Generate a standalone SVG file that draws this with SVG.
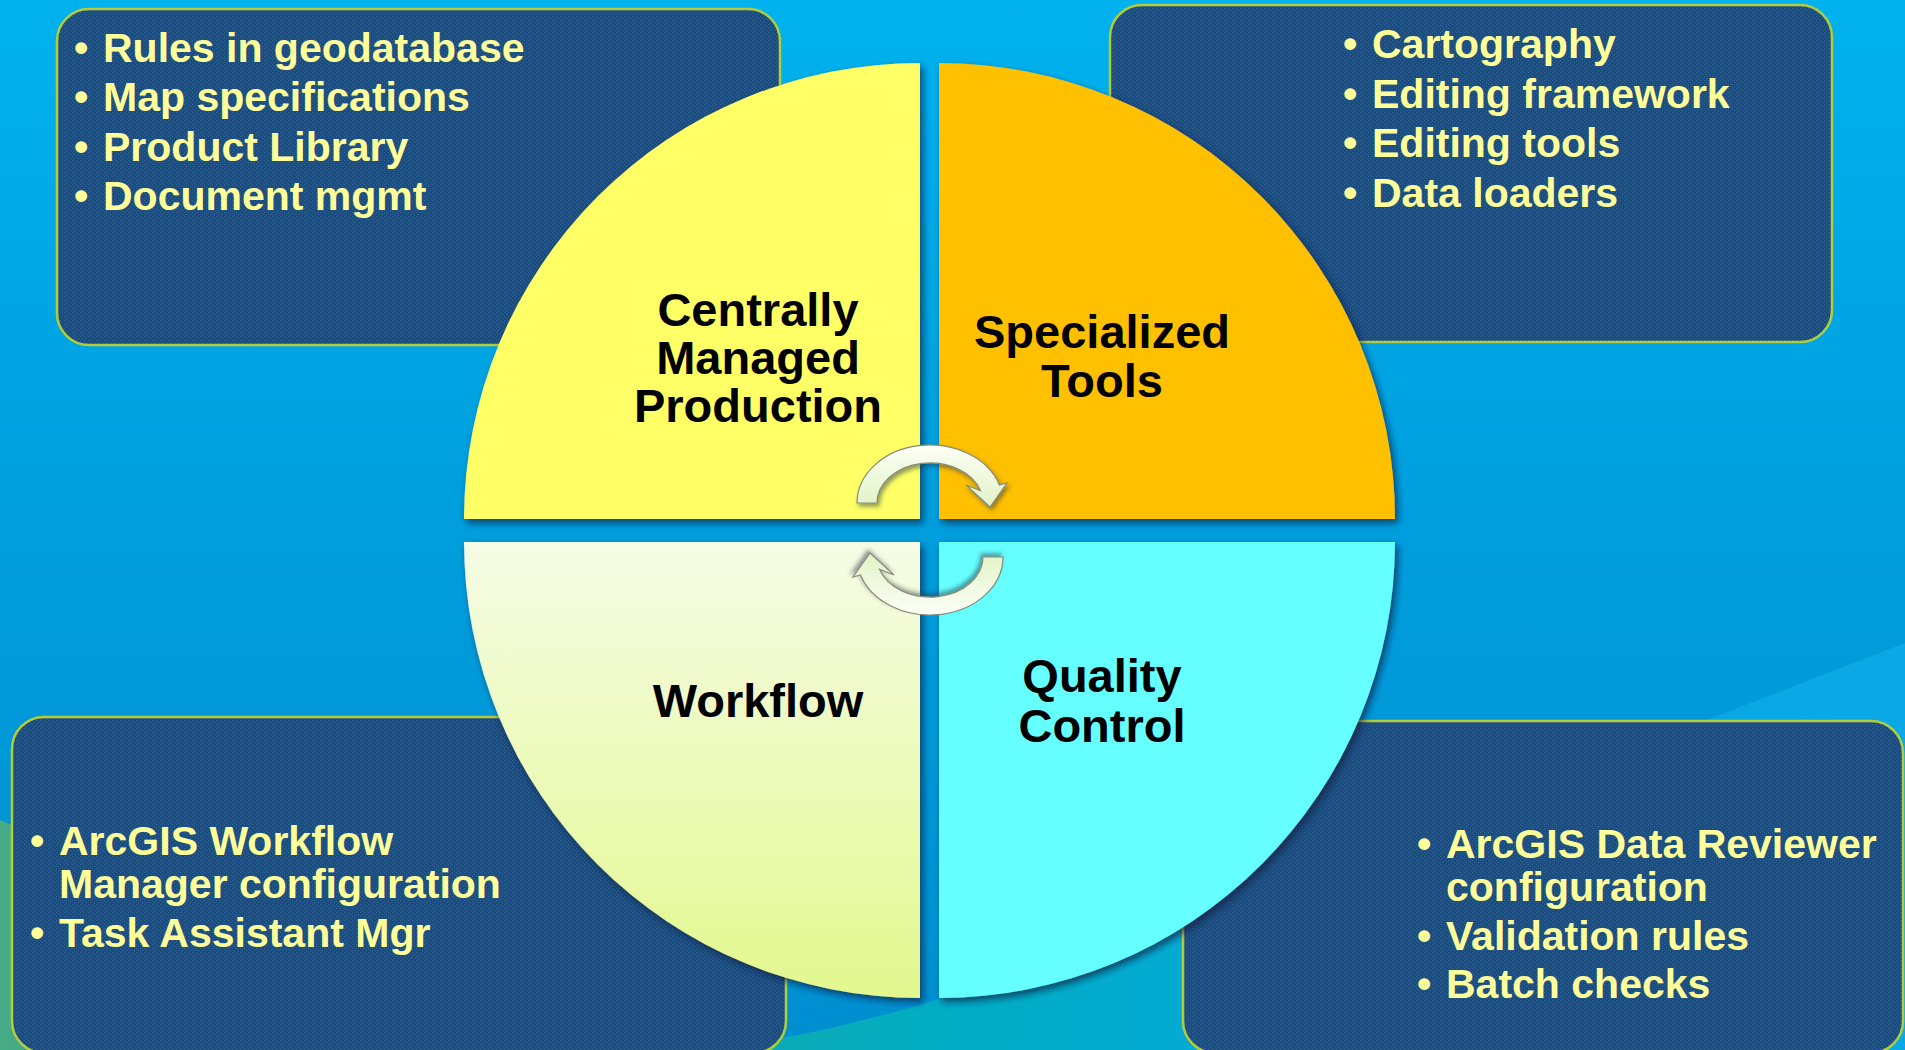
<svg xmlns="http://www.w3.org/2000/svg" width="1905" height="1050" viewBox="0 0 1905 1050">
  <defs>
    <linearGradient id="bg" x1="0" y1="0" x2="0" y2="1">
      <stop offset="0" stop-color="#00b2ee"/>
      <stop offset="0.5" stop-color="#009edd"/>
      <stop offset="1" stop-color="#008fd0"/>
    </linearGradient>
    <linearGradient id="wave" x1="0" y1="0" x2="1905" y2="0" gradientUnits="userSpaceOnUse">
      <stop offset="0" stop-color="#46ab86"/>
      <stop offset="0.3" stop-color="#1aa8a6"/>
      <stop offset="0.5" stop-color="#00adc4"/>
      <stop offset="0.75" stop-color="#08a7e0"/>
      <stop offset="1" stop-color="#0aa9e6"/>
    </linearGradient>
    <linearGradient id="wfFill" x1="0" y1="542" x2="0" y2="998" gradientUnits="userSpaceOnUse">
      <stop offset="0" stop-color="#f6fce6"/>
      <stop offset="1" stop-color="#e2f88e"/>
    </linearGradient>
    <linearGradient id="arrFill" x1="0" y1="0" x2="0" y2="1">
      <stop offset="0" stop-color="#fcfff6"/>
      <stop offset="1" stop-color="#e2f3c6"/>
    </linearGradient>
    <pattern id="tex" width="4" height="4" patternUnits="userSpaceOnUse">
      <rect width="4" height="4" fill="#214b7b"/>
      <rect x="0" y="0" width="1" height="1" fill="#2e689c"/>
      <rect x="2" y="2" width="1" height="1" fill="#2e689c"/>
    </pattern>
    <filter id="qsh" x="-10%" y="-10%" width="125%" height="125%">
      <feDropShadow dx="3" dy="4" stdDeviation="3.5" flood-color="#0b1f3f" flood-opacity="0.7"/>
    </filter>
    <filter id="ash" x="-20%" y="-20%" width="150%" height="160%">
      <feDropShadow dx="2" dy="3" stdDeviation="2" flood-color="#203040" flood-opacity="0.5"/>
    </filter>
    <style>
      .box { fill: url(#tex); stroke: #b2cc3a; stroke-width: 2.5; }
      .bt { font-family: "Liberation Sans", Arial, sans-serif; font-weight: bold; font-size: 41px; fill: #ffff99; }
      .ql { font-family: "Liberation Sans", Arial, sans-serif; font-weight: bold; font-size: 47px; fill: #000000; text-anchor: middle; }
      .quad { filter: url(#qsh); }
      .arr { fill: url(#arrFill); stroke: #868c7c; stroke-width: 1.2; filter: url(#ash); }
    </style>
  </defs>

  <!-- background -->
  <rect x="0" y="0" width="1905" height="1050" fill="url(#bg)"/>
  <path d="M 0 820 C 200 900 500 1060 787 1037 C 1000 1000 1500 800 1905 643 L 1905 1050 L 0 1050 Z" fill="url(#wave)"/>

  <!-- text boxes -->
  <g id="box-top-left">
    <rect class="box" x="57" y="9" width="723" height="336" rx="32"/>
    <text class="bt" y="62"><tspan x="74">•</tspan><tspan x="103">Rules in geodatabase</tspan></text>
    <text class="bt" y="111"><tspan x="74">•</tspan><tspan x="103">Map specifications</tspan></text>
    <text class="bt" y="161"><tspan x="74">•</tspan><tspan x="103">Product Library</tspan></text>
    <text class="bt" y="210"><tspan x="74">•</tspan><tspan x="103">Document mgmt</tspan></text>
  </g>
  <g id="box-top-right">
    <rect class="box" x="1110" y="5" width="722" height="337" rx="32"/>
    <text class="bt" y="58"><tspan x="1343">•</tspan><tspan x="1372">Cartography</tspan></text>
    <text class="bt" y="108"><tspan x="1343">•</tspan><tspan x="1372">Editing framework</tspan></text>
    <text class="bt" y="157"><tspan x="1343">•</tspan><tspan x="1372">Editing tools</tspan></text>
    <text class="bt" y="207"><tspan x="1343">•</tspan><tspan x="1372">Data loaders</tspan></text>
  </g>
  <g id="box-bottom-left">
    <rect class="box" x="12" y="717" width="774" height="336" rx="32"/>
    <text class="bt" y="855"><tspan x="30">•</tspan><tspan x="59">ArcGIS Workflow</tspan></text>
    <text class="bt" x="59" y="898">Manager configuration</text>
    <text class="bt" y="947"><tspan x="30">•</tspan><tspan x="59">Task Assistant Mgr</tspan></text>
  </g>
  <g id="box-bottom-right">
    <rect class="box" x="1183" y="721" width="720" height="332" rx="32"/>
    <text class="bt" y="858"><tspan x="1417">•</tspan><tspan x="1446">ArcGIS Data Reviewer</tspan></text>
    <text class="bt" x="1446" y="901">configuration</text>
    <text class="bt" y="950"><tspan x="1417">•</tspan><tspan x="1446">Validation rules</tspan></text>
    <text class="bt" y="998"><tspan x="1417">•</tspan><tspan x="1446">Batch checks</tspan></text>
  </g>

  <!-- quadrants -->
  <g id="node-centrally-managed-production">
    <path class="quad" d="M 920 519 L 464 519 A 456 456 0 0 1 920 63 Z" fill="#ffff66"/>
    <text class="ql" x="758" y="326">Centrally</text>
    <text class="ql" x="758" y="374">Managed</text>
    <text class="ql" x="758" y="422">Production</text>
  </g>
  <g id="node-specialized-tools">
    <path class="quad" d="M 939 519 L 939 63 A 456 456 0 0 1 1395 519 Z" fill="#ffc000"/>
    <text class="ql" x="1102" y="348">Specialized</text>
    <text class="ql" x="1102" y="397">Tools</text>
  </g>
  <g id="node-workflow">
    <path class="quad" d="M 920 542 L 920 998 A 456 456 0 0 1 464 542 Z" fill="url(#wfFill)"/>
    <text class="ql" x="758" y="717">Workflow</text>
  </g>
  <g id="node-quality-control">
    <path class="quad" d="M 939 542 L 1395 542 A 456 456 0 0 1 939 998 Z" fill="#66ffff"/>
    <text class="ql" x="1102" y="692">Quality</text>
    <text class="ql" x="1102" y="742">Control</text>
  </g>

  <!-- connectors: circular arrows -->
  <g id="connectors">
    <path class="arr" d="M 857 503 A 73 58 0 0 1 999.4 485 L 1007 483 L 990 507 L 966 485 L 980.4 490.6 A 53 40 0 0 0 877 503 Z"/>
    <path class="arr" d="M 857 503 A 73 58 0 0 1 999.4 485 L 1007 483 L 990 507 L 966 485 L 980.4 490.6 A 53 40 0 0 0 877 503 Z" transform="rotate(180 930 530)"/>
  </g>
</svg>
